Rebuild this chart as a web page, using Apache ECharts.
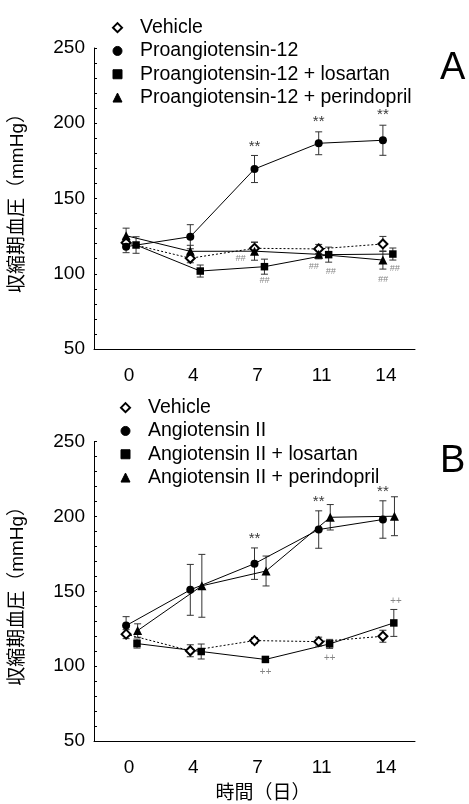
<!DOCTYPE html>
<html>
<head>
<meta charset="utf-8">
<script src="https://cdn.jsdelivr.net/npm/echarts@6/dist/echarts.min.js"></script>
<style>
html, body { margin: 0; padding: 0; background: #fff; }
#main { width: 469px; height: 804px; }
</style>
</head>
<body>
<div id="main"></div>
<script>
// 日数
var days = ['0', '4', '7', '11', '14'];

// A: Proangiotensin-12
var vehA = [120.6, 110.3, 116.9, 116.5, 119.8];
var vehAErr = [3, 3, 4, 3, 5];
var proA = [118.0, 124.6, 169.6, 186.7, 188.7];
var proAErr = [4, 8, 9, 7.6, 10];
var losA = [119.1, 101.8, 104.7, 112.7, 113.1];
var losAErr = [5.5, 4, 5, 5, 4];
var perA = [125.3, 114.9, 115.0, 112.9, 109.1];
var perAErr = [5, 4, 6, 3, 6];

// B: Angiotensin II
var vehB = [121.4, 110.3, 117.1, 116.4, 120.0];
var vehBErr = [3, 4, 2, 3, 4];
var angB = [127.1, 151.0, 168.5, 191.3, 198.0];
var angBErr = [6, 17, 10.5, 12.5, 12.5];
var losB = [115.1, 109.8, 104.5, 114.9, 128.9];
var losBErr = [3, 5, 1.5, 3, 9];
var perB = [123.8, 153.7, 163.6, 199.5, 200.2];
var perBErr = [4.5, 21, 10, 8.5, 13];

// 有意差の記号
var proAMark = ['', '', '**', '**', '**'];
var perAMark = ['', '', '##', '##', '##'];
var losAMark = ['', '', '##', '##', '##'];
var angBMark = ['', '', '**', '**', '**'];
var losBMark = ['', '', '++', '++', '++'];

var yTicks = [50, 100, 150, 200, 250];

// ---- layout / style ----
var FONT = '"Liberation Sans", Arial, "Noto Sans CJK JP", sans-serif';
var gridTop = [48, 441.7];
var gridH = 301;

// 記号の位置（点からのピクセルずれ）
var markOffsets = {
  proA: [null, null, [0, -22], [0, -21], [0, -25]],
  perA: [null, null, [-14, 7], [-5, 12], [0, 19]],
  losA: [null, null, [0, 14], [2, 17], [2, 14]],
  angB: [null, null, [0, -25], [0, -28], [0, -28]],
  losB: [null, null, [0, 13], [0, 14], [2, -22]]
};

var series = [];

function errBars(gi, vals, errs, shift) {
  var d = vals.map(function (v, i) { return [i + shift, v, errs[i]]; });
  series.push({
    type: 'custom',
    xAxisIndex: 2 + gi,
    yAxisIndex: gi,
    z: 1,
    silent: true,
    encode: { x: 0, y: 1 },
    data: d,
    renderItem: function (params, api) {
      var x = api.value(0), v = api.value(1), e = api.value(2);
      var hi = api.coord([x, v + e]);
      var lo = api.coord([x, v - e]);
      var w = 3.5;
      var st = { stroke: '#333', lineWidth: 1 };
      return {
        type: 'group',
        children: [
          { type: 'line', shape: { x1: hi[0], y1: hi[1], x2: lo[0], y2: lo[1] }, style: st },
          { type: 'line', shape: { x1: hi[0] - w, y1: hi[1], x2: hi[0] + w, y2: hi[1] }, style: st },
          { type: 'line', shape: { x1: lo[0] - w, y1: lo[1], x2: lo[0] + w, y2: lo[1] }, style: st }
        ]
      };
    }
  });
}

function group(gi, name, vals, errs, sym, size, shift, dotted) {
  errBars(gi, vals, errs, shift);
  series.push({
    name: name,
    type: 'line',
    xAxisIndex: 2 + gi,
    yAxisIndex: gi,
    z: 3,
    symbol: sym,
    symbolSize: size,
    showSymbol: true,
    itemStyle: { color: '#000', borderWidth: 1 },
    lineStyle: { color: '#000', width: 1, type: dotted ? [2, 2] : 'solid' },
    data: vals.map(function (v, i) { return [i + shift, v]; })
  });
}

function marks(gi, vals, shift, txt, offs, color, fs) {
  var d = [];
  vals.forEach(function (v, i) {
    if (txt[i]) d.push({ value: [i + shift, v], label: { formatter: txt[i], offset: offs[i] } });
  });
  series.push({
    type: 'scatter',
    xAxisIndex: 2 + gi,
    yAxisIndex: gi,
    symbolSize: 0,
    silent: true,
    z: 4,
    label: {
      show: true, position: 'inside', color: color, fontSize: fs,
      fontFamily: FONT, fontStyle: color === '#000' ? 'normal' : 'italic'
    },
    data: d
  });
}

// A
group(0, 'Vehicle', vehA, vehAErr, 'emptyDiamond', 9, 0, true);
group(0, 'Proangiotensin-12', proA, proAErr, 'circle', 8, 0, false);
group(0, 'Proangiotensin-12 + losartan', losA, losAErr, 'rect', 7.5, 0.155, false);
group(0, 'Proangiotensin-12 + perindopril', perA, perAErr, 'triangle', 9, 0, false);
marks(0, proA, 0, proAMark, markOffsets.proA, '#000', 15);
marks(0, perA, 0, perAMark, markOffsets.perA, '#666', 9);
marks(0, losA, 0.155, losAMark, markOffsets.losA, '#666', 9);

// B
group(1, 'Vehicle', vehB, vehBErr, 'emptyDiamond', 9, 0, true);
group(1, 'Angiotensin II', angB, angBErr, 'circle', 8, 0, false);
group(1, 'Angiotensin II + losartan', losB, losBErr, 'rect', 7.5, 0.17, false);
group(1, 'Angiotensin II + perindopril', perB, perBErr, 'triangle', 9, 0.18, false);
marks(1, angB, 0, angBMark, markOffsets.angB, '#000', 15);
marks(1, losB, 0.17, losBMark, markOffsets.losB, '#666', 10);

function catAxis(gi, withName) {
  var ax = {
    type: 'category',
    gridIndex: gi,
    data: days,
    boundaryGap: true,
    axisLine: { onZero: false, lineStyle: { color: '#000', width: 1 } },
    axisTick: { show: false },
    axisLabel: { color: '#000', fontSize: 19, fontFamily: FONT, margin: 17, padding: [0, 0, 0, 6] },
    splitLine: { show: false }
  };
  if (withName) {
    ax.name = '時間（日）';
    ax.nameLocation = 'middle';
    ax.nameGap = 43;
    ax.nameTextStyle = { color: '#000', fontSize: 19, fontFamily: FONT, padding: [0, 0, 0, 17] };
  }
  return ax;
}

function valAxisX(gi) {
  return { type: 'value', gridIndex: gi, min: -0.5, max: 4.5, show: false };
}

function yAxis(gi) {
  return {
    type: 'value',
    gridIndex: gi,
    min: yTicks[0],
    max: yTicks[yTicks.length - 1],
    interval: 50,
    name: '収縮期血圧（mmHg）',
    nameLocation: 'middle',
    nameGap: 67,
    nameTextStyle: { color: '#000', fontSize: 19, fontFamily: FONT },
    axisLine: { show: true, onZero: false, lineStyle: { color: '#000', width: 1 } },
    axisTick: { show: true, inside: true, length: 3, lineStyle: { color: '#000' } },
    minorTick: { show: true, splitNumber: 5, length: 3, lineStyle: { color: '#000' } },
    axisLabel: { color: '#000', fontSize: 19, fontFamily: FONT, margin: 9 },
    splitLine: { show: false }
  };
}

function legend(left, top, names) {
  var icons = ['emptyDiamond', 'circle', 'rect', 'triangle'];
  return {
    orient: 'vertical',
    left: left,
    top: top,
    itemWidth: 9,
    itemHeight: 9,
    itemGap: 0,
    selectedMode: false,
    textStyle: { color: '#000', fontSize: 19.5, fontFamily: FONT, lineHeight: 23.3, padding: [0, 0, 0, 13] },
    data: names.map(function (n, i) {
      return { name: n, icon: icons[i], itemStyle: { color: '#000', borderColor: '#000', borderWidth: 1 } };
    })
  };
}

var chart = echarts.init(document.getElementById('main'));
chart.setOption({
  animation: false,
  backgroundColor: '#fff',
  title: [
    { text: 'A', left: 435, top: 45, textStyle: { fontSize: 38, fontWeight: 'normal', color: '#000', fontFamily: FONT } },
    { text: 'B', left: 435, top: 438, textStyle: { fontSize: 38, fontWeight: 'normal', color: '#000', fontFamily: FONT } }
  ],
  legend: [
    legend(107, 11, ['Vehicle', 'Proangiotensin-12', 'Proangiotensin-12 + losartan', 'Proangiotensin-12 + perindopril']),
    legend(115, 391, ['Vehicle', 'Angiotensin II', 'Angiotensin II + losartan', 'Angiotensin II + perindopril'])
  ],
  grid: [
    { left: 92, right: 54, top: gridTop[0], height: gridH },
    { left: 92, right: 54, top: gridTop[1], height: gridH }
  ],
  xAxis: [catAxis(0, false), catAxis(1, true), valAxisX(0), valAxisX(1)],
  yAxis: [yAxis(0), yAxis(1)],
  series: series
});
</script>
</body>
</html>
